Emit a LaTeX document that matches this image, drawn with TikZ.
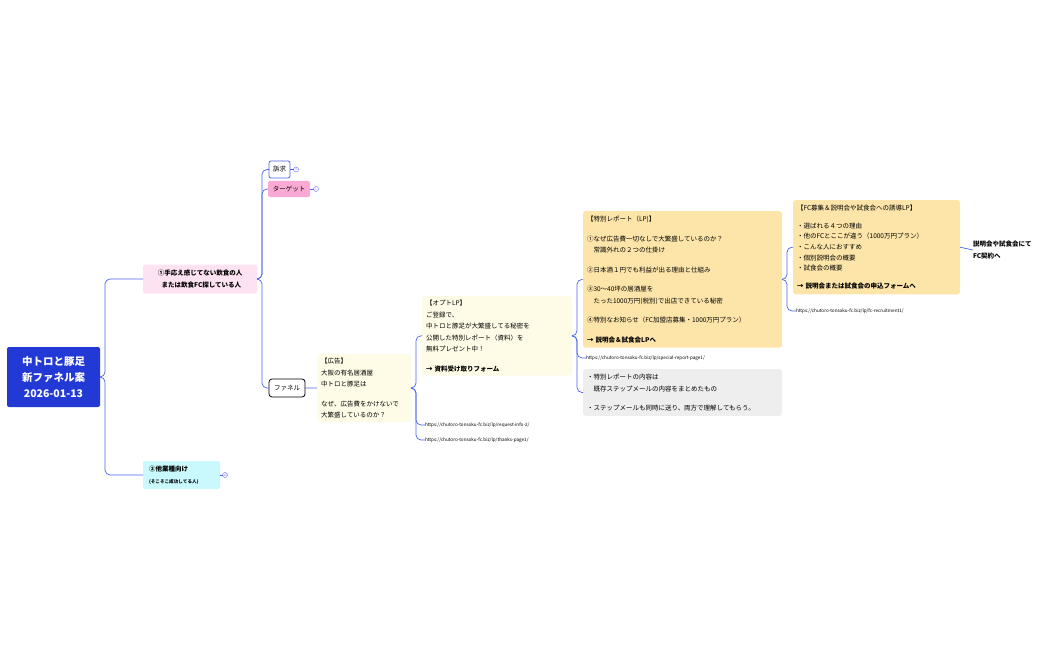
\documentclass[tikz,border=0pt]{standalone}
\usepackage{fontspec}
\setmainfont{Noto Sans CJK JP}
\begin{document}
\begin{tikzpicture}[x=1pt,y=-1pt,
  every node/.style={inner sep=0pt,outer sep=0pt},
  t/.style={font=\fontsize{6.5}{11.5}\selectfont,align=left},
  box/.style={t,anchor=north west,rounded corners=3pt,inner xsep=4pt,inner ysep=4pt},
  url/.style={font=\fontsize{4.6}{6}\selectfont,anchor=west},
  badge/.style={circle,draw=blue!60,line width=0.4pt,minimum size=5pt,font=\fontsize{3}{3}\selectfont,text=blue!60}]
\useasboundingbox (0,0) rectangle (1050,650);
\definecolor{lc}{HTML}{4A63E8}
\tikzset{ln/.style={draw=lc,line width=0.7pt,rounded corners=5pt}}
\definecolor{rootc}{HTML}{2339D6}
\definecolor{pinkl}{HTML}{FDE2F1}
\definecolor{pinkd}{HTML}{F9A9D3}
\definecolor{cyanl}{HTML}{C9F9FD}
\definecolor{yell}{HTML}{FEFCE6}
\definecolor{oran}{HTML}{FDE5A9}
\definecolor{greyl}{HTML}{EEEEEE}

\node[fill=rootc,text=white,rounded corners=2pt,minimum width=93pt,minimum height=60pt,align=center,font=\fontsize{10.5}{16}\selectfont\bfseries] (root) at (53.5,377) {中トロと豚足\\新ファネル案\\2026-01-13};

\node[fill=pinkl,rounded corners=2pt,minimum width=114pt,minimum height=29pt,align=center,font=\fontsize{6.5}{11.5}\selectfont\bfseries] (a1) at (200,279) {①手応え感じてない飲食の人\\\ \ または飲食FC探している人};
\node[fill=cyanl,rounded corners=2pt,text width=65pt,minimum height=28pt,align=left,anchor=west,inner xsep=6pt] (a2) at (143,475) {{\fontsize{6.5}{10}\selectfont\bfseries ②他業種向け}\\{\fontsize{4.6}{8}\selectfont\bfseries (そこそこ成功してる人)}};
\node[badge] (b2) at (225,475) {13};

\node[draw=lc,fill=white,line width=0.8pt,rounded corners=2pt,minimum width=21pt,minimum height=17pt,font=\fontsize{6.5}{8}\selectfont] (sokyu) at (279.5,169.5) {訴求};
\node[badge] (bs) at (296,169.5) {4};
\node[fill=pinkd,rounded corners=2pt,minimum width=42pt,minimum height=16pt,font=\fontsize{6.5}{8}\selectfont] (tgt) at (289,189) {ターゲット};
\node[badge] (bt) at (316,189) {1};
\node[draw=black,fill=white,line width=0.8pt,rounded corners=3pt,minimum width=36pt,minimum height=18pt,font=\fontsize{6.5}{8}\selectfont] (fun) at (287,388) {ファネル};

\node[box,fill=yell,text width=86pt] (ad) at (317,354) {【広告】\\大阪の有名居酒屋\\中トロと豚足は\\[8pt]なぜ、広告費をかけないで\\大繁盛しているのか？};

\node[box,fill=yell,text width=142pt] (opt) at (422,296) {【オプトLP】\\ご登録で、\\中トロと豚足が大繁盛してる秘密を\\公開した特別レポート（資料）を\\無料プレゼント中！\\[8pt]{\bfseries → 資料受け取りフォーム}};
\node[url] (u1) at (425,425) {https://chutoro-tonsoku-fc.biz/lp/request-info-2/};
\node[url] (u2) at (425,440) {https://chutoro-tonsoku-fc.biz/lp/thanks-page1/};

\node[box,fill=oran,text width=191pt,inner ysep=5pt] (rep) at (583,211) {【特別レポート（LP)】\\[8pt]①なぜ広告費一切なしで大繁盛しているのか？\\\ \ \ 常識外れの２つの仕掛け\\[8pt]②日本酒１円でも利益が出る理由と仕組み\\[8pt]③30〜40坪の居酒屋を\\\ \ \ たった1000万円(税別)で出店できている秘密\\[8pt]④特別なお知らせ（FC加盟店募集・1000万円プラン）\\[8pt]{\bfseries → 説明会＆試食会LPへ}};
\node[url] (u3) at (586,358) {https://chutoro-tonsoku-fc.biz/lp/special-report-page1/};
\node[box,fill=greyl,text width=191pt,inner ysep=5pt] (gr) at (583,369) {・特別レポートの内容は\\\ \ \ 既存ステップメールの内容をまとめたもの\\[8pt]・ステップメールも同時に送り、両方で理解してもらう。};

\node[box,fill=oran,text width=159pt,inner ysep=5pt,font=\fontsize{6.5}{10.7}\selectfont] (fc) at (793,200) {【FC募集＆説明会や試食会への誘導LP】\\[7pt]・選ばれる４つの理由\\・他のFCとここが違う（1000万円プラン）\\・こんな人におすすめ\\・個別説明会の概要\\・試食会の概要\\[7pt]{\bfseries → 説明会または試食会の申込フォームへ}};
\node[url] (u4) at (796,311) {https://chutoro-tonsoku-fc.biz/lp/fc-recruitment1/};
\node[t,anchor=west,font=\fontsize{6.5}{11.5}\selectfont\bfseries] (fin) at (973,250) {説明会や試食会にて\\FC契約へ};

\draw[ln] (root.east) -- ++(5,0) |- (a1.west);
\draw[ln] (root.east) -- ++(5,0) |- (a2.west);
\draw[ln] (a1.east) -- ++(5,0) |- (sokyu.west);
\draw[ln] (a1.east) -- ++(5,0) |- (tgt.west);
\draw[ln] (a1.east) -- ++(5,0) |- (fun.west);
\draw[ln] (fun.east) -- (ad.west);
\draw[ln] (ad.east) -- ++(5,0) |- (opt.west);
\draw[ln] (ad.east) -- ++(5,0) |- (u1.west);
\draw[ln] (ad.east) -- ++(5,0) |- (u2.west);
\draw[ln] (opt.east) -- ++(5,0) |- (rep.west);
\draw[ln] (opt.east) -- ++(5,0) |- (u3.west);
\draw[ln] (opt.east) -- ++(5,0) |- (gr.west);
\draw[ln] (rep.east) -- ++(5,0) |- (fc.west);
\draw[ln] (rep.east) -- ++(5,0) |- (u4.west);
\draw[ln] (fc.east) -- (fin.west);
\draw[lc,line width=0.5pt] (sokyu.east) -- (bs.west) (tgt.east) -- (bt.west) (a2.east) -- (b2.west);
\end{tikzpicture}
\end{document}
